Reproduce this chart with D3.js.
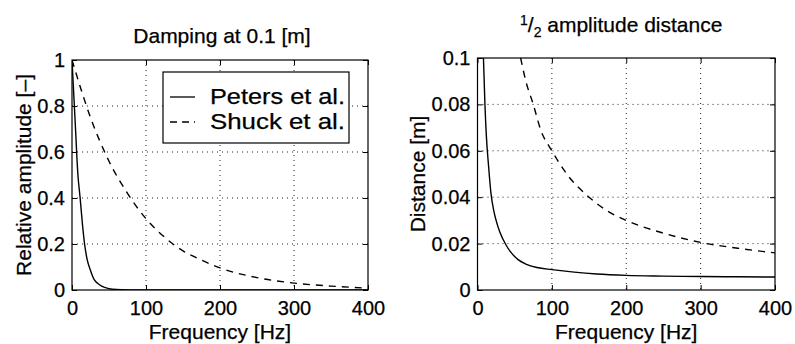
<!DOCTYPE html>
<html><head><meta charset="utf-8">
<script src="https://cdn.jsdelivr.net/npm/d3@7"></script>
<style>
body{margin:0;background:#fff;}
svg{display:block;font-family:"Liberation Sans",Arial,Helvetica,sans-serif;}
text{fill:#000;stroke:#000;stroke-width:0.25;}
.tick line{stroke:#000;stroke-width:1;}
</style></head>
<body><svg id="c" width="795" height="344"></svg>
<script>
// ---- data ----
const xTicks = [0, 100, 200, 300, 400];
const xTickLabels = ["0", "100", "200", "300", "400"];
const ampTicks = [0, 0.2, 0.4, 0.6, 0.8, 1];
const ampTickLabels = ["0", "0.2", "0.4", "0.6", "0.8", "1"];
const distTicks = [0, 0.02, 0.04, 0.06, 0.08, 0.1];
const distTickLabels = ["0", "0.02", "0.04", "0.06", "0.08", "0.1"];
const seriesNames = ["Peters et al.", "Shuck et al."];

// Left panel: relative amplitude at 0.1 m
const petersAmpFreq = [0, 4, 8, 11, 14, 17, 20, 25, 30, 35, 40, 50, 60, 80, 100, 150, 200, 250, 300, 350, 400];
const petersAmp     = [1, 0.75, 0.5, 0.4, 0.29, 0.2, 0.14, 0.085, 0.045, 0.028, 0.017, 0.006, 0.002, 0.0005, 0, 0, 0, 0, 0, 0, 0];
const shuckAmpFreq  = [0, 25, 50, 75, 100, 125, 150, 175, 200, 250, 300, 350, 400];
const shuckAmp      = [1, 0.75, 0.56, 0.42, 0.31, 0.23, 0.17, 0.13, 0.096, 0.054, 0.03, 0.017, 0.008];

// Right panel: half amplitude distance
const petersDistFreq = [8, 10, 12, 15, 18, 22, 25, 30, 38, 45, 55, 65, 80, 100, 130, 160, 200, 250, 300, 350, 400];
const petersDist     = [0.1, 0.08, 0.066, 0.053, 0.042, 0.034, 0.030, 0.025, 0.0196, 0.0162, 0.0130, 0.0112, 0.0097, 0.0088, 0.0077, 0.0069, 0.0063, 0.0060, 0.0058, 0.0057, 0.0056];
const shuckDistFreq  = [58, 65, 75, 85, 100, 120, 150, 175, 200, 250, 300, 350, 400];
const shuckDist      = [0.1, 0.09, 0.08, 0.069, 0.06, 0.05, 0.04, 0.034, 0.03, 0.0245, 0.0205, 0.018, 0.016];

// ---- drawing ----
const svg = d3.select("#c");
const FONT = 21, TICKF = 20;

function panel(opt){
  const {x0,x1,y0,y1,yDomain,yTicks,yLabels,series,ylabel,ylabelX,id} = opt;
  const x = d3.scaleLinear().domain([0,400]).range([x0,x1]);
  const y = d3.scaleLinear().domain(yDomain).range([y1,y0]);
  const g = svg.append("g");
  svg.append("clipPath").attr("id",id).append("rect")
    .attr("x",x0).attr("y",y0).attr("width",x1-x0).attr("height",y1-y0);
  // grid
  g.selectAll(".gx").data(xTicks.slice(1,-1)).join("line")
    .attr("x1",d=>x(d)).attr("x2",d=>x(d)).attr("y1",y0).attr("y2",y1)
    .attr("stroke","#222").attr("stroke-width",1).attr("stroke-dasharray","1,4");
  g.selectAll(".gy").data(yTicks.slice(1,-1)).join("line")
    .attr("y1",d=>y(d)).attr("y2",d=>y(d)).attr("x1",x0).attr("x2",x1)
    .attr("stroke","#222").attr("stroke-width",1).attr("stroke-dasharray","1,4");
  // lines
  const line = d3.line().x(d=>x(d[0])).y(d=>y(d[1])).curve(d3.curveMonotoneX);
  series.forEach(s=>{
    g.append("path").datum(d3.zip(s.f,s.v))
      .attr("clip-path",`url(#${id})`)
      .attr("fill","none").attr("stroke","#000").attr("stroke-width",1.4)
      .attr("stroke-dasharray",s.dash||null)
      .attr("d",line);
  });
  // axes (ticks inward)
  const fmtX = d=>xTickLabels[xTicks.indexOf(d)];
  const fmtY = d=>yLabels[yTicks.indexOf(d)];
  const ax = g.append("g").attr("transform",`translate(0,${y1})`)
    .call(d3.axisBottom(x).tickValues(xTicks).tickFormat(fmtX).tickSize(-5).tickSizeOuter(0).tickPadding(11));
  const axT = g.append("g").attr("transform",`translate(0,${y0})`)
    .call(d3.axisTop(x).tickValues(xTicks).tickFormat("").tickSize(-5).tickSizeOuter(0));
  const ay = g.append("g").attr("transform",`translate(${x0},0)`)
    .call(d3.axisLeft(y).tickValues(yTicks).tickFormat(fmtY).tickSize(-5).tickSizeOuter(0).tickPadding(7));
  const ayR = g.append("g").attr("transform",`translate(${x1},0)`)
    .call(d3.axisRight(y).tickValues(yTicks).tickFormat("").tickSize(-5).tickSizeOuter(0));
  [ax,axT,ay,ayR].forEach(a=>{a.select(".domain").remove();
    a.selectAll("text").attr("font-size",TICKF).attr("font-family","Liberation Sans, Arial, sans-serif");});
  // box
  g.append("rect").attr("x",x0).attr("y",y0).attr("width",x1-x0).attr("height",y1-y0)
    .attr("fill","none").attr("stroke","#000").attr("stroke-width",1.2);
  // x label
  g.append("text").attr("x",(x0+x1)/2).attr("y",338.5).attr("text-anchor","middle")
    .attr("font-size",FONT).text("Frequency [Hz]");
  // y label
  g.append("text").attr("transform",`translate(${ylabelX},${(y0+y1)/2}) rotate(-90)`)
    .attr("text-anchor","middle").attr("font-size",FONT).text(ylabel);
  return {x,y,g};
}

panel({id:"clipL",x0:72,x1:368,y0:60,y1:290,yDomain:[0,1],yTicks:ampTicks,yLabels:ampTickLabels,
  series:[{f:petersAmpFreq,v:petersAmp},{f:shuckAmpFreq,v:shuckAmp,dash:"7,6"}],
  ylabel:"Relative amplitude [–]",ylabelX:31});
panel({id:"clipR",x0:477.5,x1:775,y0:58,y1:290,yDomain:[0,0.1],yTicks:distTicks,yLabels:distTickLabels,
  series:[{f:petersDistFreq,v:petersDist},{f:shuckDistFreq,v:shuckDist,dash:"7,6"}],
  ylabel:"Distance [m]",ylabelX:425});

// titles
svg.append("text").attr("x",222).attr("y",43).attr("text-anchor","middle")
  .attr("font-size",FONT).text("Damping at 0.1 [m]");
const t2 = svg.append("text").attr("x",520).attr("y",32).attr("font-size",FONT);
t2.append("tspan").attr("font-size",14).attr("dy",-7).text("1");
t2.append("tspan").attr("font-size",FONT).attr("dy",7).text("/");
t2.append("tspan").attr("font-size",14).attr("dy",5).text("2");
t2.append("tspan").attr("font-size",FONT).attr("dy",-5).text(" amplitude distance");

// legend
const lg = svg.append("g");
lg.append("rect").attr("x",163).attr("y",72).attr("width",186).attr("height",71)
  .attr("fill","#fff").attr("stroke","#000").attr("stroke-width",1.2);
const legY = [97, 122];
seriesNames.forEach((n,i)=>{
  lg.append("line").attr("x1",170).attr("x2",195).attr("y1",legY[i]).attr("y2",legY[i])
    .attr("stroke","#000").attr("stroke-width",1.3).attr("stroke-dasharray",i? "7,5":null);
  lg.append("text").attr("x",210).attr("y",legY[i]+7).attr("font-size",21.5)
    .attr("textLength",135).attr("lengthAdjust","spacingAndGlyphs").text(n);
});
</script></body></html>
